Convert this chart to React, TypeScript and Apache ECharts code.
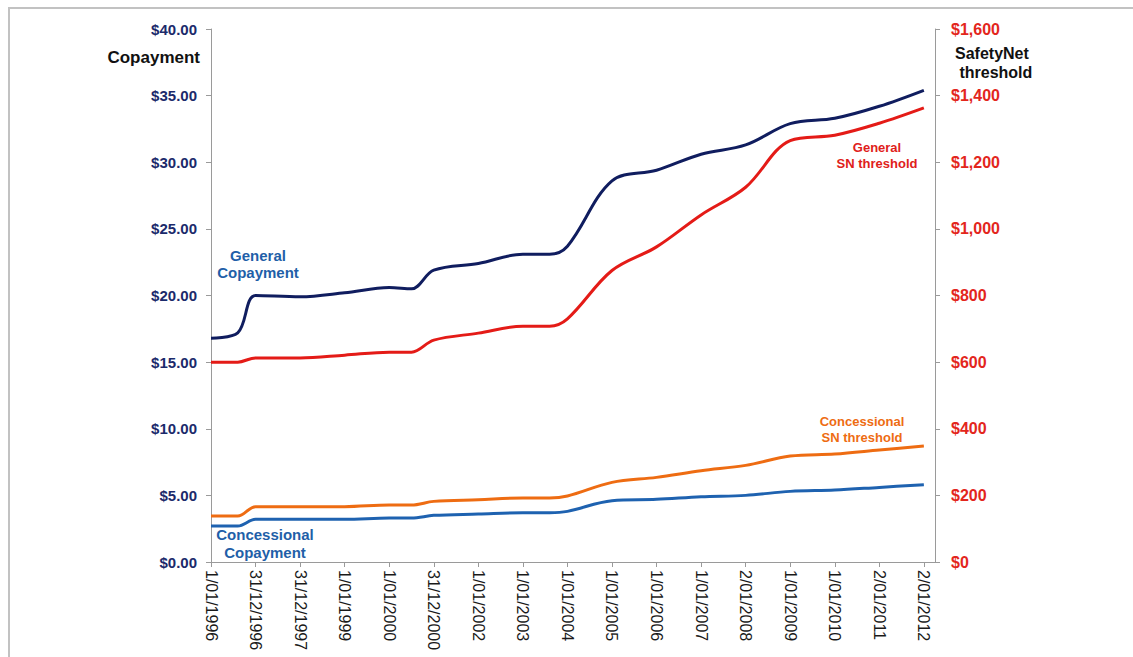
import React, { useEffect, useRef } from "react";
import * as echarts from "echarts";

// Tick labels along the x axis (one per year position)
const tickLabels = [
  "1/01/1996", "31/12/1996", "31/12/1997", "1/01/1999", "1/01/2000",
  "31/12/2000", "1/01/2002", "1/01/2003", "1/01/2004", "1/01/2005",
  "1/01/2006", "1/01/2007", "2/01/2008", "1/01/2009", "1/01/2010",
  "2/01/2011", "2/01/2012",
];

// x positions of data points (in tick units; includes points just before changes)
const xPos = [0, 0.6, 1, 2, 3, 4, 4.5, 5, 6, 7, 7.6, 8, 9, 10, 11, 12, 13, 14, 15, 16];

// Left axis: copayments ($)
const generalCopayment = [16.8, 17.2, 20.0, 19.9, 20.2, 20.6, 20.5, 21.9, 22.4, 23.1, 23.1, 23.7, 28.6, 29.4, 30.6, 31.3, 32.9, 33.3, 34.2, 35.4];
const concessionalCopayment = [2.7, 2.7, 3.2, 3.2, 3.2, 3.3, 3.3, 3.5, 3.6, 3.7, 3.7, 3.8, 4.6, 4.7, 4.9, 5.0, 5.3, 5.4, 5.6, 5.8];

// Right axis: safety net thresholds ($)
const generalSN = [600, 600, 612.6, 612.6, 621, 630, 630, 666, 687, 708, 708, 730, 875, 946, 1042, 1125, 1265, 1281, 1317, 1363];
const concessionalSN = [138, 138, 166, 166, 166, 171, 171, 182, 187, 192, 192, 198, 239, 254, 274, 290, 318, 324, 336, 348];

const pair = (vals: number[]) => vals.map((v, i) => [xPos[i], v]);

export default function App() {
  const ref = useRef<HTMLDivElement>(null);
  useEffect(() => {
    if (!ref.current) return;
    const chart = echarts.init(ref.current, null, { renderer: "svg" });
    const font = "Liberation Sans, Arial, sans-serif";
    const lineSeries = (name: string, data: number[], color: string, yAxisIndex: number) => ({
      name,
      type: "line",
      yAxisIndex,
      data: pair(data),
      smooth: 0.35,
      showSymbol: false,
      symbol: "none",
      lineStyle: { color, width: 3 },
      itemStyle: { color },
    });
    chart.setOption({
      animation: false,
      backgroundColor: "#ffffff",
      grid: { left: 211, right: 198, top: 29, bottom: 95, containLabel: false },
      xAxis: {
        type: "value",
        min: 0,
        max: 16.25,
        interval: 1,
        splitLine: { show: false },
        axisLine: { show: true, lineStyle: { color: "#9a9a9a", width: 1 } },
        axisTick: { show: true, length: 5, lineStyle: { color: "#9a9a9a" } },
        axisLabel: {
          rotate: -90,
          margin: 8,
          color: "#1a1a1a",
          fontSize: 16,
          fontFamily: font,
          showMaxLabel: false,
          formatter: (v: number) => (Number.isInteger(v) && tickLabels[v] ? tickLabels[v] : ""),
        },
      },
      yAxis: [
        {
          type: "value",
          min: 0,
          max: 40,
          interval: 5,
          position: "left",
          splitLine: { show: false },
          axisLine: { show: true, lineStyle: { color: "#9a9a9a" } },
          axisTick: { show: true, length: 5, lineStyle: { color: "#9a9a9a" } },
          axisLabel: {
            margin: 14,
            color: "#1b2a6b",
            fontWeight: "bold",
            fontSize: 15,
            fontFamily: font,
            formatter: (v: number) => "$" + v.toFixed(2),
          },
        },
        {
          type: "value",
          min: 0,
          max: 1600,
          interval: 200,
          position: "right",
          splitLine: { show: false },
          axisLine: { show: true, lineStyle: { color: "#9a9a9a" } },
          axisTick: { show: true, length: 5, lineStyle: { color: "#9a9a9a" } },
          axisLabel: {
            margin: 16,
            color: "#e3261c",
            fontWeight: "bold",
            fontSize: 16,
            fontFamily: font,
            formatter: (v: number) => "$" + v.toLocaleString("en-US"),
          },
        },
      ],
      series: [
        lineSeries("General Copayment", generalCopayment, "#101d5f", 0),
        lineSeries("General SN threshold", generalSN, "#e41b17", 1),
        lineSeries("Concessional SN threshold", concessionalSN, "#ee6c12", 1),
        lineSeries("Concessional Copayment", concessionalCopayment, "#1e62b0", 0),
      ],
      graphic: [
        { type: "line", shape: { x1: 8, y1: 8, x2: 1133, y2: 8 }, style: { stroke: "#c2c2c2", lineWidth: 2 }, silent: true },
        { type: "line", shape: { x1: 9, y1: 8, x2: 9, y2: 657 }, style: { stroke: "#c2c2c2", lineWidth: 2 }, silent: true },
        {
          type: "text", x: 200, y: 57,
          style: { text: "Copayment", fill: "#111", font: `bold 17px ${font}`, textAlign: "right", textVerticalAlign: "middle" },
        },
        {
          type: "text", x: 955, y: 63,
          style: { text: "SafetyNet\n threshold", fill: "#111", font: `bold 16px ${font}`, textAlign: "left", textVerticalAlign: "middle", lineHeight: 19 },
        },
        {
          type: "text", x: 258, y: 264,
          style: { text: "General\nCopayment", fill: "#1f5fa8", font: `bold 15px ${font}`, textAlign: "center", textVerticalAlign: "middle", lineHeight: 17 },
        },
        {
          type: "text", x: 877, y: 155,
          style: { text: "General\nSN threshold", fill: "#e0201a", font: `bold 13px ${font}`, textAlign: "center", textVerticalAlign: "middle", lineHeight: 16 },
        },
        {
          type: "text", x: 862, y: 429,
          style: { text: "Concessional\nSN threshold", fill: "#ee6c12", font: `bold 13px ${font}`, textAlign: "center", textVerticalAlign: "middle", lineHeight: 16 },
        },
        {
          type: "text", x: 265, y: 543,
          style: { text: "Concessional\nCopayment", fill: "#1f5fa8", font: `bold 15px ${font}`, textAlign: "center", textVerticalAlign: "middle", lineHeight: 18 },
        },
      ],
    });
    return () => chart.dispose();
  }, []);
  return (
    <div
      ref={ref}
      style={{ position: "fixed", left: 0, top: 0, width: 1133, height: 657, background: "#fff" }}
    />
  );
}
